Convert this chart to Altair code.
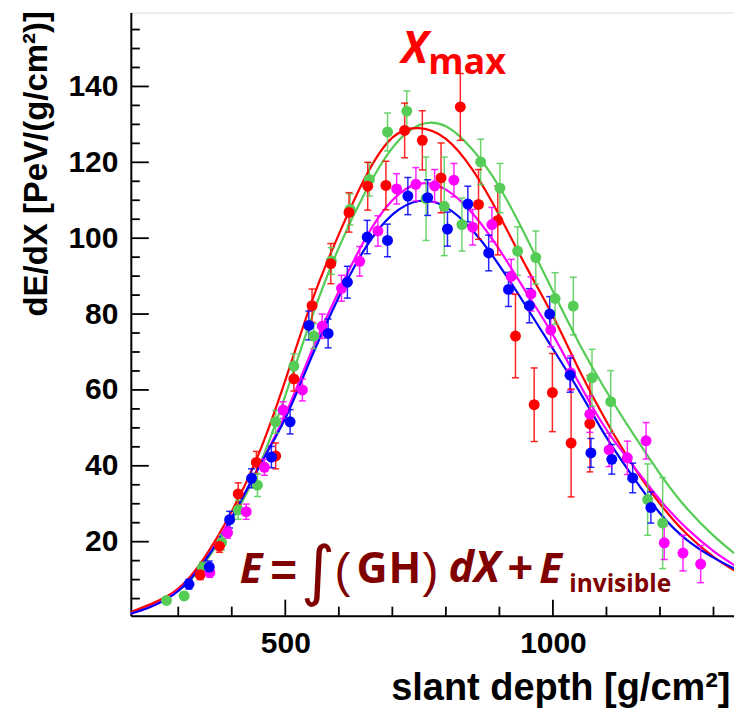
import altair as alt
import pandas as pd

# ---------------- data ----------------
series_names = ["green", "red", "magenta", "blue"]
series_colors = ["#55cc55", "#ff0000", "#ff00ff", "#0000ff"]

green_x = [278, 311, 345, 381, 412, 448, 482, 516, 553, 586, 621, 657, 691, 727, 763, 797, 830, 865, 901, 934, 968, 1004, 1038, 1073, 1108, 1177, 1205]
green_y = [4.5, 5.7, 13.1, 19.8, 28.4, 34.9, 51.6, 66.3, 74.2, 94.0, 107.6, 115.5, 128.0, 133.5, 110.4, 108.4, 103.6, 120.1, 113.2, 96.6, 94.9, 84.1, 82.1, 63.2, 56.9, 31.1, 24.9]
green_e = [0.8, 1.0, 1.5, 2.0, 2.5, 3.0, 3.0, 3.2, 3.3, 3.5, 4.1, 4.4, 5.0, 5.3, 11.0, 13.0, 7.0, 6.0, 6.5, 6.4, 7.0, 6.8, 7.6, 7.5, 8.2, 9.4, 12.0]

red_x = [341, 377, 412, 446, 482, 516, 550, 585, 619, 654, 688, 723, 756, 791, 827, 861, 897, 930, 965, 999, 1034, 1069]
red_y = [11.3, 18.8, 32.6, 40.9, 42.6, 62.9, 82.2, 93.3, 106.8, 113.7, 113.9, 128.4, 125.8, 115.9, 134.6, 108.9, 104.7, 74.2, 56.1, 59.3, 46.0, 51.1]
red_e = [1.3, 1.6, 2.9, 2.9, 3.4, 3.2, 4.4, 5.3, 5.2, 6.3, 6.4, 7.2, 7.8, 9.2, 8.8, 9.2, 9.1, 11.0, 9.7, 10.3, 14.2, 12.7]

magenta_x = [359, 392, 427, 461, 496, 532, 569, 605, 639, 673, 708, 744, 779, 815, 850, 886, 922, 959, 996, 1033, 1069, 1105, 1139, 1174, 1208, 1243, 1276]
magenta_y = [11.9, 22.4, 27.9, 39.6, 54.7, 60.0, 76.8, 86.8, 93.9, 101.9, 113.0, 114.2, 113.8, 115.3, 102.9, 103.6, 89.9, 85.3, 75.8, 64.5, 53.6, 44.2, 42.1, 46.6, 19.7, 17.0, 14.1]
magenta_e = [1.3, 1.5, 2.0, 2.1, 2.2, 2.9, 3.2, 3.4, 3.9, 4.0, 4.0, 4.4, 4.3, 4.4, 4.7, 4.5, 4.5, 4.5, 4.4, 4.5, 4.8, 4.4, 4.4, 4.8, 4.4, 4.7, 4.9]

blue_x = [320, 358, 396, 437, 474, 509, 544, 580, 616, 653, 691, 729, 766, 803, 841, 880, 917, 956, 994, 1032, 1071, 1110, 1149, 1183]
blue_y = [8.8, 13.3, 25.8, 36.7, 42.3, 51.6, 77.0, 74.9, 88.4, 100.3, 99.4, 111.1, 110.7, 102.4, 109.0, 96.1, 86.5, 82.2, 80.0, 63.9, 43.4, 41.7, 36.8, 29.0]
blue_e = [1.3, 1.6, 2.2, 2.5, 2.8, 3.2, 3.8, 3.8, 4.2, 4.4, 4.3, 4.9, 4.7, 4.5, 4.7, 4.7, 4.5, 4.5, 4.6, 4.5, 3.8, 3.9, 3.9, 4.1]

# fitted profiles
curve_x = [211, 250, 300, 350, 400, 450, 500, 550, 600, 650, 700, 750, 800, 850, 900, 950, 1000, 1050, 1100, 1150, 1200, 1250, 1300, 1340]
green_fit = [1.3, 3.3, 7.0, 14.5, 25.5, 39.5, 58.5, 79.3, 97.5, 112.3, 123.8, 129.8, 129.5, 123.3, 113.5, 100.3, 86.0, 72.0, 59.6, 48.4, 37.9, 28.8, 21.6, 16.8]
red_fit = [1.4, 3.6, 7.6, 16.0, 28.0, 43.0, 62.5, 83.5, 101.0, 116.2, 126.5, 129.0, 126.2, 118.0, 106.0, 92.5, 79.5, 65.0, 51.7, 40.0, 30.0, 22.0, 16.0, 12.3]
magenta_fit = [1.0, 3.0, 7.2, 15.0, 26.5, 39.5, 53.5, 70.5, 86.0, 100.0, 110.0, 114.4, 112.8, 106.5, 97.0, 85.8, 74.5, 61.5, 49.5, 40.0, 31.0, 23.5, 17.5, 13.7]
blue_fit = [1.0, 2.9, 7.0, 15.0, 26.3, 39.5, 52.5, 69.0, 84.5, 97.5, 106.2, 109.8, 108.2, 102.0, 92.8, 82.0, 70.8, 59.5, 47.5, 37.0, 27.5, 20.5, 15.8, 12.8]

y_major = [20, 40, 60, 80, 100, 120, 140]
y_minor = [v for v in range(5, 160, 5) if v % 20 != 0]
x_major = [500, 1000]
x_minor = [300, 400, 600, 700, 800, 900, 1100, 1200, 1300]

x_title = "slant depth [g/cm²]"
y_title = "dE/dX [PeV/(g/cm²)]"

# ---------------- layout ----------------
W, H = 604, 604
X_DOM = [211.4, 1338.3]
Y_DOM = [0.5, 159.5]
px_x = W / (X_DOM[1] - X_DOM[0])
px_y = H / (Y_DOM[1] - Y_DOM[0])

# ---------------- tables ----------------
pts_rows = []
for name, xv, yv, ev in [("green", green_x, green_y, green_e), ("red", red_x, red_y, red_e),
                         ("magenta", magenta_x, magenta_y, magenta_e), ("blue", blue_x, blue_y, blue_e)]:
    for x, y, e in zip(xv, yv, ev):
        pts_rows.append({"series": name, "x": x, "y": y, "lo": y - e, "hi": y + e})
pts = pd.DataFrame(pts_rows)

fit_rows = []
for name, yv in [("green", green_fit), ("red", red_fit), ("magenta", magenta_fit), ("blue", blue_fit)]:
    for x, y in zip(curve_x, yv):
        fit_rows.append({"series": name, "x": x, "y": y})
fits = pd.DataFrame(fit_rows)

# axis ticks drawn inward as two-point line segments (lengths in px -> data units)
tick_rows = []
k = 0
for vals, L in [(y_major, 18), (y_minor, 9)]:
    for v in vals:
        tick_rows += [{"id": k, "o": 0, "x": X_DOM[0], "y": v},
                      {"id": k, "o": 1, "x": X_DOM[0] + L / px_x, "y": v}]
        k += 1
for vals, L in [(x_major, 16), (x_minor, 9)]:
    for v in vals:
        tick_rows += [{"id": k, "o": 0, "x": v, "y": Y_DOM[0]},
                      {"id": k, "o": 1, "x": v, "y": Y_DOM[0] + L / px_y}]
        k += 1
ticks = pd.DataFrame(tick_rows)

xs = alt.Scale(domain=X_DOM, nice=False, zero=False)
ys = alt.Scale(domain=Y_DOM, nice=False, zero=False)
cs = alt.Scale(domain=series_names, range=series_colors)

X = lambda f="x": alt.X(f, type="quantitative", scale=xs)
Y = lambda f="y": alt.Y(f, type="quantitative", scale=ys)
C = alt.Color("series:N", scale=cs, legend=None)

base_axes = alt.Chart(pd.DataFrame({"x": [X_DOM[0]], "y": [Y_DOM[0]]})).mark_point(opacity=0).encode(
    x=alt.X("x:Q", scale=xs, axis=alt.Axis(values=x_major, ticks=False, grid=False, domain=True,
            domainColor="black", domainWidth=2, labelFont="Liberation Sans", labelFontWeight="bold",
            labelFontSize=30, labelColor="black", labelPadding=13, format="d",
            title=x_title, titleFont="Liberation Sans", titleFontWeight="bold", titleFontSize=38,
            titleColor="black", titleAnchor="end", titleAlign="right", titleBaseline="alphabetic",
            titleX=600, titleY=84)),
    y=alt.Y("y:Q", scale=ys, axis=alt.Axis(values=y_major, ticks=False, grid=False, domain=True,
            domainColor="black", domainWidth=2, labelFont="Liberation Sans", labelFontWeight="bold",
            labelFontSize=30, labelColor="black", labelPadding=13, format="d",
            title=y_title, titleFont="Liberation Sans", titleFontWeight="bold", titleFontSize=33,
            titleColor="black", titleAnchor="end", titleAlign="right", titleBaseline="middle",
            titleAngle=270, titleX=-94, titleY=-2)),
)

tick_layer = alt.Chart(ticks).mark_line(strokeWidth=1.8, color="#000000").encode(
    x=X("x"), y=Y("y"), detail="id:N", order="o:Q")

lines = alt.Chart(fits).mark_line(strokeWidth=2.2, interpolate="natural", clip=True).encode(
    x=X(), y=Y(), color=C, detail="series:N")

bars = alt.Chart(pts).mark_rule(strokeWidth=1.5, opacity=0.85).encode(
    x=X(), y=Y("lo"), y2="hi", color=C)
cap_lo = alt.Chart(pts).mark_tick(orient="horizontal", size=7, thickness=1.5, opacity=0.85).encode(
    x=X(), y=Y("lo"), color=C)
cap_hi = alt.Chart(pts).mark_tick(orient="horizontal", size=7, thickness=1.5, opacity=0.85).encode(
    x=X(), y=Y("hi"), color=C)
dots = alt.Chart(pts).mark_circle(size=120, opacity=1).encode(x=X(), y=Y(), color=C)

# annotations (data coordinates)
def txt(df, **kw):
    return alt.Chart(pd.DataFrame(df)).mark_text(**kw).encode(
        x=alt.X("x:Q", scale=xs), y=alt.Y("y:Q", scale=ys), text="t:N")

dark = "#800000"
ann = [
    txt({"t": ["X"], "x": [717], "y": [146.1]}, color="red", font="Open Sans", fontSize=44,
        fontWeight="bold", fontStyle="italic", align="left", baseline="alphabetic"),
    txt({"t": ["max"], "x": [767], "y": [143.4]}, color="red", font="Open Sans", fontSize=36,
        fontWeight="bold", align="left", baseline="alphabetic"),
    txt({"t": ["E", "E"], "x": [414.8, 974.5], "y": [9.2, 9.2]}, color=dark,
        font="Open Sans", fontSize=42, fontWeight="bold", fontStyle="italic", align="left", baseline="alphabetic"),
    txt({"t": ["dX"], "x": [805], "y": [9.5]}, color=dark,
        font="Open Sans", fontSize=43, fontWeight="bold", fontStyle="italic", align="left", baseline="alphabetic"),
    txt({"t": ["G", "H"], "x": [633, 693], "y": [9.2, 9.2]}, color=dark, font="Open Sans", fontSize=43,
        fontWeight="bold", align="left", baseline="alphabetic"),
    txt({"t": ["invisible"], "x": [1030.4], "y": [6.8]}, color=dark, font="Open Sans", fontSize=24.5,
        fontWeight="bold", align="left", baseline="alphabetic"),
    txt({"t": ["="], "x": [496.9], "y": [8.4]}, color=dark, font="Liberation Sans",
        fontSize=46, fontWeight="bold", align="center", baseline="alphabetic"),
    txt({"t": ["+"], "x": [939], "y": [9.0]}, color=dark, font="Liberation Sans",
        fontSize=44, fontWeight="bold", align="center", baseline="alphabetic"),
    txt({"t": ["∫"], "x": [561], "y": [6.6]}, color=dark, font="DejaVu Sans", fontSize=66,
        align="center", baseline="alphabetic"),
    txt({"t": ["(", ")"], "x": [606.9, 771.1], "y": [8.0, 8.0]}, color=dark, font="Liberation Sans",
        fontSize=48, align="center", baseline="alphabetic"),
]

chart = alt.layer(
    base_axes, lines, bars, cap_lo, cap_hi, dots, tick_layer, *ann
).properties(
    width=W, height=H,
    autosize=alt.AutoSizeParams(type="none"),
    padding={"left": 131, "top": 12, "right": 0, "bottom": 99},
).configure_view(stroke="#444444", strokeWidth=2).configure(background="white")

chart.save("out.html", embed_options={"renderer": "svg", "actions": False})
